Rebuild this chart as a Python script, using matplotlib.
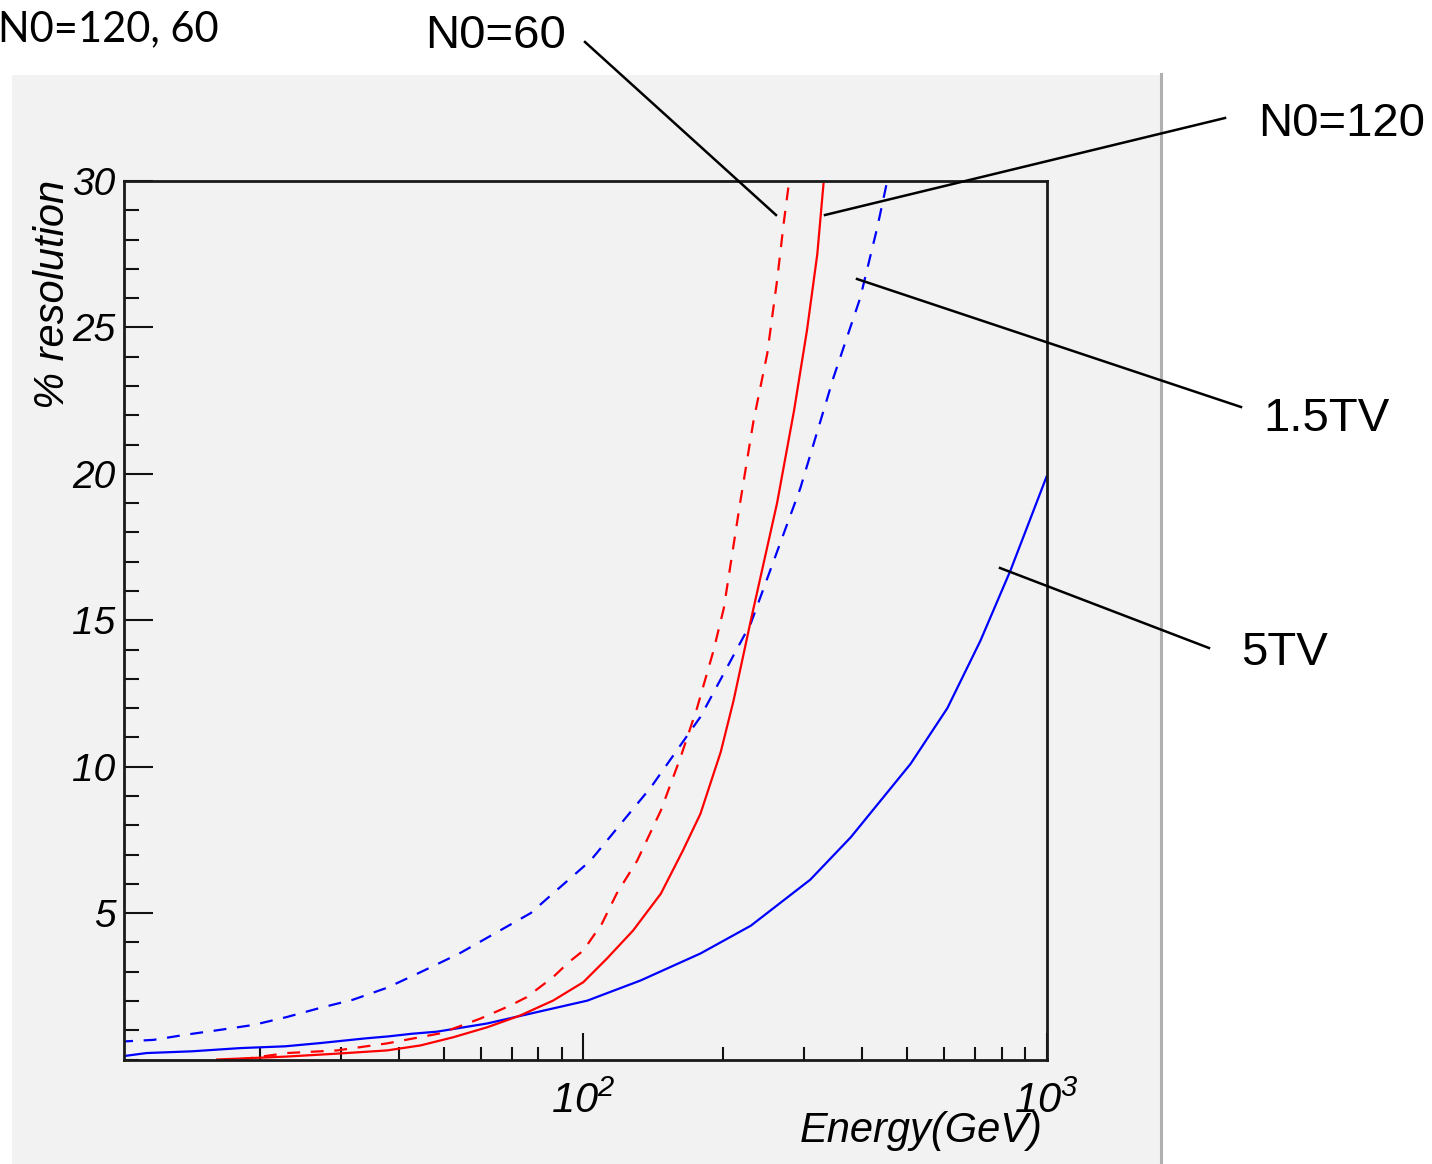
import matplotlib
matplotlib.use("Agg")
import matplotlib.pyplot as plt
from matplotlib.lines import Line2D
from matplotlib.patches import Rectangle
from matplotlib.ticker import FixedLocator, MultipleLocator, LogLocator, NullFormatter, FixedFormatter

# ---------------- data ----------------
# 5TV, solid blue
e_5tv = [10, 11.4, 14.3, 18.2, 22.7, 27, 33.8, 38, 42.7, 48.3, 62, 79, 102, 133, 179,
         230, 309, 378, 509, 611, 720, 836, 1000]
r_5tv = [0.10, 0.22, 0.28, 0.39, 0.45, 0.56, 0.72, 0.79, 0.88, 0.95, 1.23, 1.61, 2.01, 2.70, 3.62,
         4.57, 6.14, 7.59, 10.1, 12.0, 14.3, 16.7, 19.9]

# 1.5TV, dashed blue
e_15tv = [10, 11.8, 13.9, 16.4, 19.4, 22.9, 27, 31.8, 37.7, 44.5, 54, 66, 77, 85, 103.6,
          140, 179, 230, 294, 347, 396, 431, 453]
r_15tv = [0.61, 0.67, 0.85, 1.01, 1.18, 1.45, 1.76, 2.04, 2.45, 2.98, 3.62, 4.40, 5.0, 5.6, 6.79,
          9.3, 11.7, 14.9, 19.5, 23.3, 26.0, 28.4, 30.0]

# N0=120, solid red
e_n120 = [16.2, 22.9, 29.4, 37.7, 44.5, 52.4, 62, 73, 86, 100, 112.5, 128, 147, 164, 179,
          198, 211, 230, 262, 285, 304, 320, 330]
r_n120 = [0, 0.10, 0.20, 0.31, 0.48, 0.76, 1.10, 1.50, 2.01, 2.64, 3.45, 4.40, 5.66, 7.13, 8.39,
          10.5, 12.25, 15.0, 19.0, 22.15, 24.9, 27.5, 29.9]

# N0=60, dashed red
e_n60 = [18.2, 22.9, 29.4, 37.7, 49, 54, 60, 69.5, 75.5, 86, 93, 100, 109.7, 118, 130.7,
         147, 162, 176, 191, 201, 218, 233, 249.5, 262, 271, 278]
r_n60 = [0, 0.22, 0.31, 0.55, 0.89, 1.13, 1.40, 1.84, 2.13, 2.81, 3.32, 3.72, 4.64, 5.66, 6.79,
         8.5, 10.3, 12.0, 13.96, 15.4, 19.0, 21.8, 24.1, 26.6, 28.6, 29.95]

y_ticks = [5, 10, 15, 20, 25, 30]
y_ticklabels = ["5", "10", "15", "20", "25", "30"]
x_ticks = [100, 1000]
x_ticklabels = [r"$\mathrm{10^{2}}$", r"$\mathrm{10^{3}}$"]
x_title = "Energy(GeV)"
y_title = "% resolution"
corner_note = "N0=120, 60"
callouts = ["N0=60", "N0=120", "1.5TV", "5TV"]

# ---------------- figure ----------------
W, H = 1432, 1164
plt.rcParams["mathtext.fontset"] = "custom"
plt.rcParams["mathtext.rm"] = "Liberation Sans:italic"
plt.rcParams["mathtext.it"] = "Liberation Sans:italic"
plt.rcParams["mathtext.default"] = "rm"

fig = plt.figure(figsize=(W / 100, H / 100), dpi=100, facecolor="white")


def fx(px):
    return px / W


def fy(py):
    return 1 - py / H


# grey ROOT canvas
fig.add_artist(Rectangle((fx(12), 0), fx(1160) - fx(12), fy(75), transform=fig.transFigure,
                         facecolor="#f2f2f2", edgecolor="none", zorder=0))
fig.add_artist(Line2D([fx(1161), fx(1161)], [0, fy(74)], transform=fig.transFigure,
                      color="#b0b0b0", lw=2.2, zorder=1))

ax_l, ax_r, ax_t, ax_b = 123.7, 1046.5, 181, 1059.5
ax = fig.add_axes([fx(ax_l), fy(ax_b), fx(ax_r - ax_l), (ax_b - ax_t) / H])
ax.set_facecolor("#f2f2f2")
ax.set_xscale("log")
ax.set_xlim(10.18, 1000)
ax.set_ylim(0, 30)

dash = (0, (5.8, 4.8))
lw = 1.6
ax.plot(e_5tv, r_5tv, color="#0000ff", lw=lw, solid_joinstyle="round")
ax.plot(e_15tv, r_15tv, color="#0000ff", lw=lw, linestyle=dash)
ax.plot(e_n120, r_n120, color="#ff0000", lw=lw)
ax.plot(e_n60, r_n60, color="#ff0000", lw=lw, linestyle=dash)

for s in ax.spines.values():
    s.set_linewidth(2.0)
    s.set_color("#1a1a1a")
    s.set_zorder(5)

ax.yaxis.set_major_locator(FixedLocator(y_ticks))
ax.yaxis.set_major_formatter(FixedFormatter(y_ticklabels))
ax.yaxis.set_minor_locator(MultipleLocator(1))
ax.xaxis.set_major_locator(FixedLocator(x_ticks))
ax.xaxis.set_major_formatter(FixedFormatter(x_ticklabels))
ax.xaxis.set_minor_locator(LogLocator(base=10, subs=[2, 3, 4, 5, 6, 7, 8, 9]))
ax.xaxis.set_minor_formatter(NullFormatter())

ax.tick_params(axis="both", which="both", direction="in", top=False, right=False,
               width=1.5, color="#111111")
ax.tick_params(axis="y", which="major", length=21, pad=6)
ax.tick_params(axis="y", which="minor", length=10.8)
ax.tick_params(axis="x", which="major", length=19.4, pad=16)
ax.tick_params(axis="x", which="minor", length=9.4)
for lab in ax.get_yticklabels():
    lab.set_fontfamily("Liberation Sans")
    lab.set_fontstyle("italic")
    lab.set_fontsize(28)
for lab in ax.get_xticklabels():
    lab.set_fontfamily("Liberation Sans")
    lab.set_fontstyle("italic")
    lab.set_fontsize(30)

# axis titles (ROOT style, aligned to the axis ends)
fig.text(fx(1043), fy(1142), x_title, ha="right", va="baseline",
         family="Liberation Sans", style="italic", size=30)
fig.text(fx(64), fy(180), y_title, rotation=90, rotation_mode="anchor",
         ha="right", va="baseline", family="Liberation Sans", style="italic", size=30)

# annotations
fig.text(fx(-2), fy(41), corner_note, ha="left", va="baseline", family="Lato", size=30)
ann_pos = [(425, 48), (1258, 136), (1263, 431), (1241, 665)]
for txt, (px, py) in zip(callouts, ann_pos):
    fig.text(fx(px), fy(py), txt, ha="left", va="baseline", family="Liberation Sans", size=34)

leaders = [((585, 42), (776, 215)),
           ((1225, 118), (825, 215)),
           ((857, 279), (1241, 407)),
           ((1000, 568), (1209, 648))]
for (x0, y0), (x1, y1) in leaders:
    fig.add_artist(Line2D([fx(x0), fx(x1)], [fy(y0), fy(y1)], transform=fig.transFigure,
                          color="black", lw=1.8, zorder=10))

fig.savefig("out.png", dpi=100, facecolor="white")
